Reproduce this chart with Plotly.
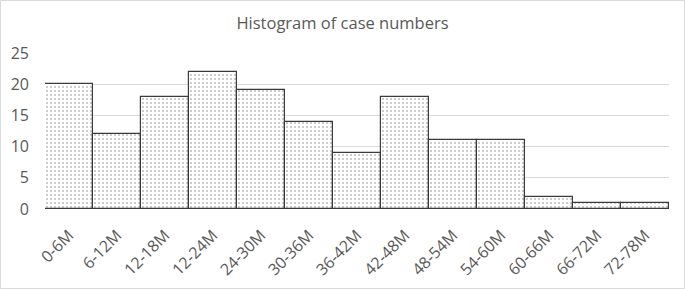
import plotly.graph_objects as go

categories = ["0-6M", "6-12M", "12-18M", "12-24M", "24-30M", "30-36M", "36-42M",
              "42-48M", "48-54M", "54-60M", "60-66M", "66-72M", "72-78M"]
case_counts = [20, 12, 18, 22, 19, 14, 9, 18, 11, 11, 2, 1, 1]
y_ticks = [0, 5, 10, 15, 20, 25]

W, H = 685, 289
L, R, T, B = 45, 16, 53, 80
pw, ph = W - L - R, H - T - B

fig = go.Figure(go.Bar(
    x=categories, y=case_counts,
    hoverinfo="skip",
    marker=dict(color="white",
                line=dict(color="#3a3a3a", width=1.2),
                pattern=dict(shape=".", fgcolor="#6a6a6a", bgcolor="white", size=4, solidity=0.16)),
))

fig.update_layout(
    width=W, height=H,
    margin=dict(l=L, r=R, t=T, b=B, autoexpand=False),
    paper_bgcolor="white", plot_bgcolor="white",
    bargap=0,
    showlegend=False,
    font=dict(family="Open Sans, Liberation Sans, sans-serif", color="#595959", size=16),
    title=dict(text="Histogram of case numbers", x=0.5, xanchor="center", y=1 - 23 / H, yanchor="middle",
               font=dict(size=16.5, color="#595959")),
    xaxis=dict(tickangle=-45, showgrid=False, showline=False, ticks="", automargin=False,
               tickfont=dict(size=16, color="#595959"), ticklabelstandoff=13),
    yaxis=dict(range=[0, 25], tickvals=y_ticks, showgrid=True, gridcolor="#D9D9D9", gridwidth=1,
               zeroline=False, showline=False, ticks="", automargin=False,
               tickfont=dict(size=16, color="#595959"), ticklabelstandoff=15),
    shapes=[dict(type="rect", xref="paper", yref="paper",
                 x0=(0.5 - L) / pw, x1=1 + (R - 0.5) / pw,
                 y0=-(B - 0.5) / ph, y1=1 + (T - 0.5) / ph,
                 line=dict(color="#D9D9D9", width=1), layer="below")],
)

fig.write_html("out.html", config={"displayModeBar": False},
               post_script="document.body.style.margin='0';document.body.style.overflow='hidden';")
